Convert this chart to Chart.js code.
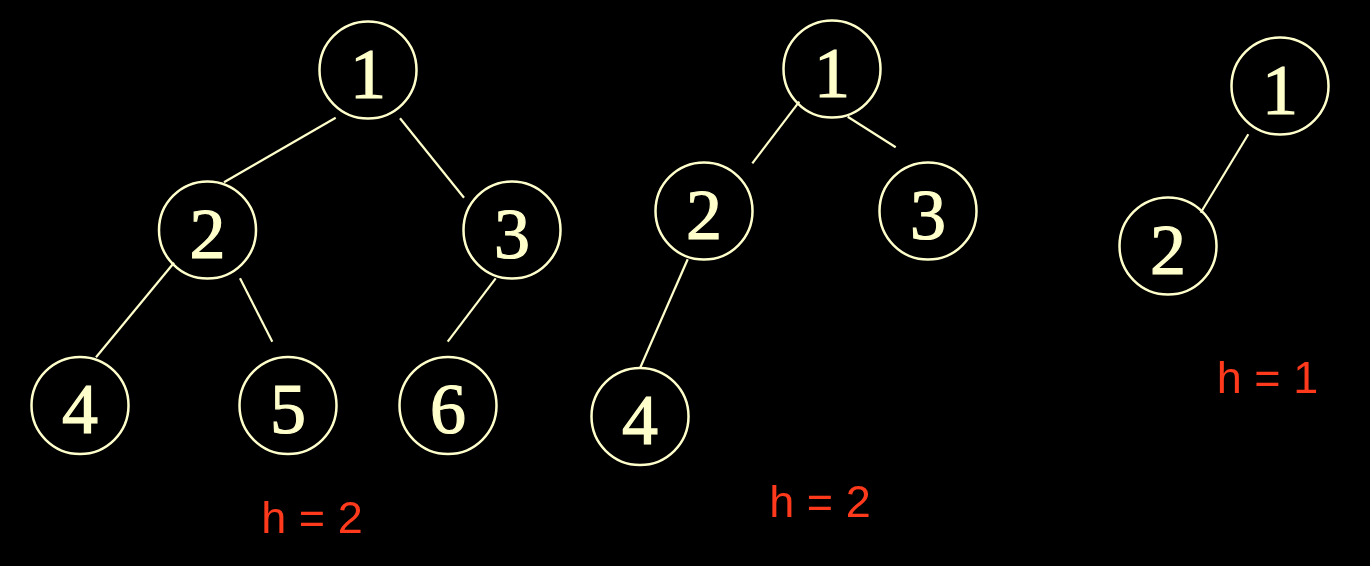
<!DOCTYPE html>
<html>
<head>
<meta charset="utf-8">
<script src="https://cdn.jsdelivr.net/npm/chart.js@4"></script>
<style>
  html, body { margin: 0; padding: 0; background: #000; }
  #wrap { width: 1370px; height: 566px; position: relative; }
</style>
</head>
<body>
<div id="wrap"><canvas id="treeChart"></canvas></div>
<script>
// Nodes of the three trees (slide coordinates, y grows downward)
const nodeLabels = ['1', '2', '3', '4', '5', '6', '1', '2', '3', '4', '1', '2'];
const nodeX = [368, 207.5, 512, 80, 288, 448, 832, 704, 928, 640, 1280, 1168];
const nodeY = [70, 230, 230, 405.5, 405.5, 405.5, 69, 211, 211, 416.5, 86, 246];

// Edge segments as drawn on the slide (start / end)
const edgeX1 = [335.7, 400, 174, 240, 495.7, 799.3, 847.7, 687.7, 1248.3];
const edgeY1 = [117.7, 118.3, 262.7, 278.3, 278.3, 101.7, 116.7, 259.3, 134.3];
const edgeX2 = [224, 464, 96, 272.3, 447.7, 752.3, 895.7, 640, 1200.7];
const edgeY2 = [182.3, 197.7, 357.3, 341.7, 341.7, 163.3, 147.3, 368.3, 212.7];

// Height captions
const heightLabels = ['h = 2', 'h = 2', 'h = 1'];
const heightX = [312, 820, 1267.5];
const heightY = [532.7, 516.7, 393.3];

const cream = '#FFFFCC';
const red = '#FF3A1C';

const edgeSets = edgeX1.map((x, i) => ({
  type: 'scatter',
  data: [{ x: x, y: edgeY1[i] }, { x: edgeX2[i], y: edgeY2[i] }],
  showLine: true,
  borderColor: cream,
  borderWidth: 2.2,
  pointRadius: 0,
  clip: false
}));

const nodeSet = {
  type: 'scatter',
  data: nodeX.map((x, i) => ({ x: x, y: nodeY[i] })),
  pointStyle: 'circle',
  pointRadius: 48.5,
  pointBorderWidth: 2.5,
  pointBorderColor: cream,
  pointBackgroundColor: 'rgba(0,0,0,0)',
  showLine: false,
  clip: false
};

// Draws node numbers and height captions at data positions
const textPlugin = {
  id: 'treeText',
  afterDatasetsDraw(chart) {
    const ctx = chart.ctx;
    const xs = chart.scales.x, ys = chart.scales.y;
    ctx.save();
    ctx.textAlign = 'center';
    ctx.textBaseline = 'alphabetic';
    ctx.fillStyle = cream;
    ctx.strokeStyle = cream;
    ctx.lineWidth = 1.2;
    ctx.font = "72px 'Liberation Serif', 'Times New Roman', serif";
    nodeLabels.forEach((t, i) => {
      const px = xs.getPixelForValue(nodeX[i]);
      const py = ys.getPixelForValue(nodeY[i] + 27.5);
      ctx.fillText(t, px, py);
      ctx.strokeText(t, px, py);
    });
    ctx.fillStyle = red;
    ctx.font = "45px 'Liberation Sans', Arial, sans-serif";
    heightLabels.forEach((t, i) => {
      ctx.fillText(t, xs.getPixelForValue(heightX[i]), ys.getPixelForValue(heightY[i]));
    });
    ctx.restore();
  }
};

new Chart(document.getElementById('treeChart'), {
  type: 'scatter',
  data: { datasets: [...edgeSets, nodeSet] },
  options: {
    responsive: true,
    maintainAspectRatio: false,
    animation: false,
    layout: { padding: 0, autoPadding: false },
    plugins: {
      legend: { display: false },
      tooltip: { enabled: false }
    },
    scales: {
      x: { type: 'linear', min: 0, max: 1370, display: false },
      y: { type: 'linear', min: 0, max: 566, reverse: true, display: false }
    }
  },
  plugins: [textPlugin]
});
</script>
</body>
</html>
